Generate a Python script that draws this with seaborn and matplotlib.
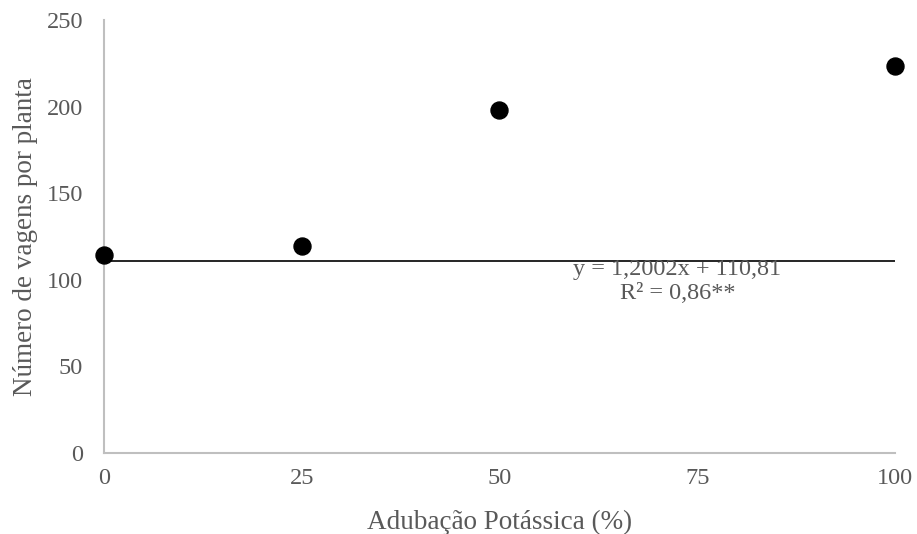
import matplotlib
matplotlib.use("Agg")
import matplotlib.pyplot as plt
import seaborn as sns
import pandas as pd

# data
doses = [0, 25, 50, 100]
vagens = [114.3, 119.3, 197.8, 223.4]
trend_y = 110.81
xticks = [0, 25, 50, 75, 100]
yticks = [0, 50, 100, 150, 200, 250]

df = pd.DataFrame({"dose": doses, "vagens": vagens})

sns.set_style("white")
plt.rcParams['font.family'] = ['Liberation Serif', 'DejaVu Serif']
grey = "#595959"

fig = plt.figure(figsize=(9.17, 5.34), dpi=100)
ax = fig.add_axes([0.1134, 0.1517, 0.8626, 0.8108])

ax.axhline(trend_y, color="black", lw=1.2, zorder=1)
sns.scatterplot(data=df, x="dose", y="vagens", ax=ax, color="black",
                s=150, edgecolor="black", zorder=3, clip_on=False)

ax.set_xlim(0, 100)
ax.set_ylim(0, 250)
ax.set_xticks(xticks)
ax.set_yticks(yticks)
ax.tick_params(axis="both", length=0, labelsize=17.5, colors=grey)
ax.tick_params(axis="y", pad=15)
ax.tick_params(axis="x", pad=11)
for s in ["top", "right"]:
    ax.spines[s].set_visible(False)
for s in ["left", "bottom"]:
    ax.spines[s].set_color("#BFBFBF")
    ax.spines[s].set_linewidth(1.5)

ax.set_xlabel("Adubação Potássica (%)", fontsize=19.5, color=grey, labelpad=15)
ax.set_ylabel("Número de vagens por planta", fontsize=19.5, color=grey, labelpad=6)

ax.text(72.5, 112, "y = 1,2002x + 110,81\nR² = 0,86**", ha="center", va="top",
        fontsize=17.5, color=grey, linespacing=1.2)

fig.savefig("out.png", dpi=100)
